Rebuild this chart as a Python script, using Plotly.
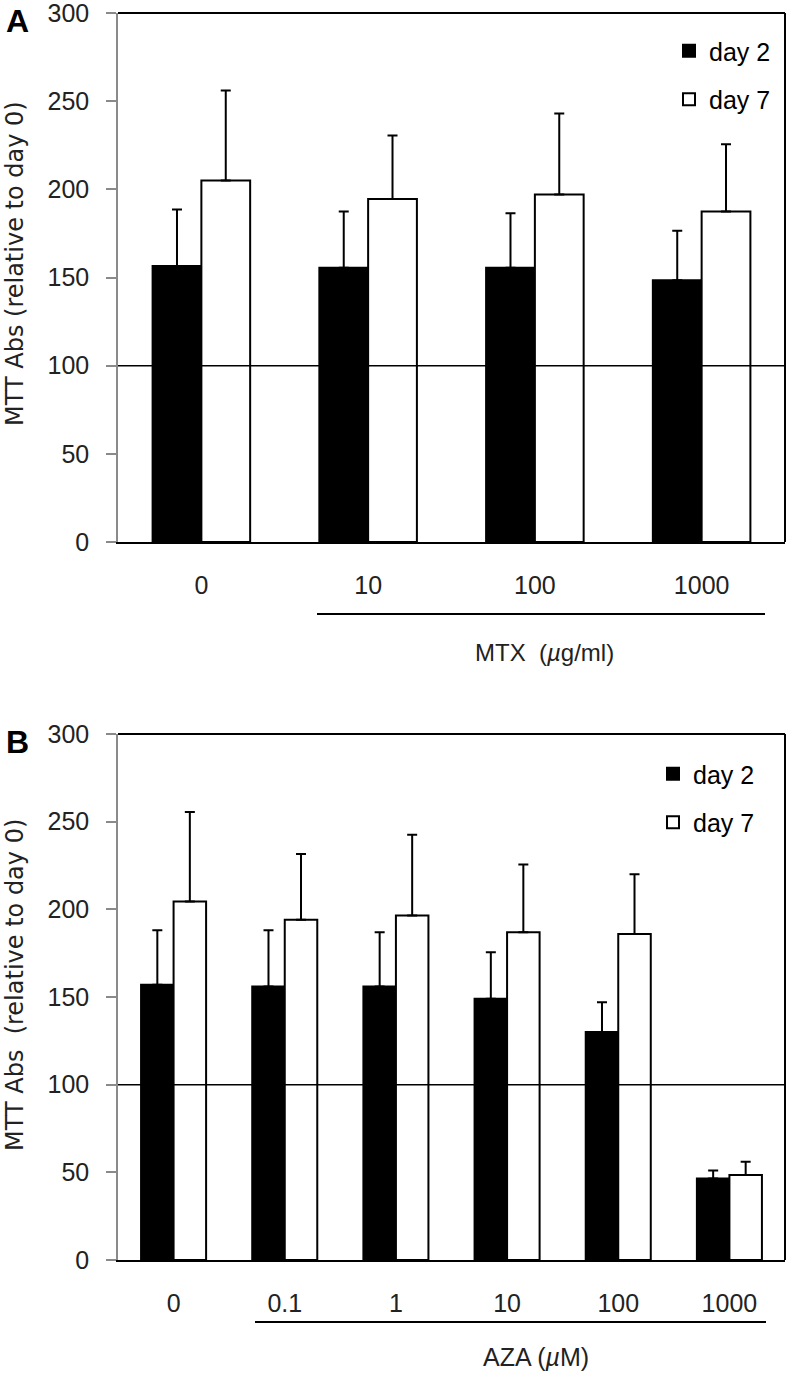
import plotly.graph_objects as go

# ---------------- data ----------------
mtx_doses = ["0", "10", "100", "1000"]
mtx_day2 = [156.5, 155.5, 155.5, 148.5]
mtx_day2_err = [32, 32, 31, 28]
mtx_day7 = [205, 194.5, 197, 187.5]
mtx_day7_err = [51, 36, 46, 38]

aza_doses = ["0", "0.1", "1", "10", "100", "1000"]
aza_day2 = [157, 156, 156, 149, 130, 46.5]
aza_day2_err = [31, 32, 31, 26.5, 17, 4.5]
aza_day7 = [204.5, 194, 196.5, 187, 186, 48.5]
aza_day7_err = [51, 37.5, 46, 38.5, 34, 7.5]

y_ticks = [0, 50, 100, 150, 200, 250, 300]
series_names = ["day 2", "day 7"]

# ---------------- layout helpers ----------------
W, H = 792, 1374
FONT = "Liberation Sans, Arial, sans-serif"
TFONT = "DejaVu Sans, Verdana, sans-serif"


def px_x(p):
    return p / W


def px_y(p):
    return 1 - p / H


x_dom = [px_x(118), px_x(785)]
yA_dom = [px_y(542), px_y(13)]
yB_dom = [px_y(1260), px_y(734)]

fig = go.Figure()


def add_bars(xs, d2, e2, d7, e7, xa, ya, leg, grp):
    for name, vals, errs, fill in [
        (series_names[0], d2, e2, "black"),
        (series_names[1], d7, e7, "white"),
    ]:
        fig.add_trace(go.Bar(
            x=xs, y=vals, name=name,
            marker=dict(color=fill, line=dict(color="black", width=2)),
            error_y=dict(type="data", array=errs, arrayminus=[0] * len(errs),
                         symmetric=False, color="black", thickness=2, width=5),
            xaxis=xa, yaxis=ya, legend=leg, legendgroup=grp + name,
        ))


add_bars(mtx_doses, mtx_day2, mtx_day2_err, mtx_day7, mtx_day7_err, "x", "y", "legend", "a")
add_bars(aza_doses, aza_day2, aza_day2_err, aza_day7, aza_day7_err, "x2", "y2", "legend2", "b")

yaxis_common = dict(
    range=[0, 300], tickvals=y_ticks, showgrid=False, zeroline=False,
    showline=True, linecolor="#8a8a8a", linewidth=1.5, automargin=False,
    ticks="outside", ticklen=10, tickcolor="#8a8a8a", tickwidth=1.5,
    tickfont=dict(family=FONT, size=25, color="#222"), ticklabelstandoff=12,
    ticklabeloverflow="allow",
)
xaxis_common = dict(
    type="category", showgrid=False, zeroline=False, automargin=False,
    showline=True, linecolor="black", linewidth=2, ticks="",
    tickfont=dict(family=FONT, size=25, color="#222"), ticklabelstandoff=20,
    ticklabeloverflow="allow",
)

legend_common = dict(
    font=dict(family=FONT, size=25, color="black"),
    bgcolor="rgba(0,0,0,0)", traceorder="grouped", tracegroupgap=13,
    xanchor="left", yanchor="top",
)

shapes = []
for xa, ya in [("x", "y"), ("x2", "y2")]:
    # reference line at 100
    shapes.append(dict(type="line", xref=f"{xa} domain", yref=ya, x0=0, x1=1,
                       y0=100, y1=100, line=dict(color="black", width=1.5), layer="above"))
    # top border
    shapes.append(dict(type="line", xref=f"{xa} domain", yref=f"{ya} domain", x0=0, x1=1,
                       y0=1, y1=1, line=dict(color="black", width=2)))
    # right border
    shapes.append(dict(type="line", xref=f"{xa} domain", yref=f"{ya} domain", x0=1, x1=1,
                       y0=0, y1=1, line=dict(color="black", width=2)))
# dose underlines
shapes.append(dict(type="line", xref="paper", yref="paper", x0=px_x(317), x1=px_x(765),
                   y0=px_y(614), y1=px_y(614), line=dict(color="black", width=2)))
shapes.append(dict(type="line", xref="paper", yref="paper", x0=px_x(255), x1=px_x(766),
                   y0=px_y(1322), y1=px_y(1322), line=dict(color="black", width=2)))


def ann(text, x, y, font, **kw):
    return dict(text=text, x=px_x(x), y=px_y(y), xref="paper", yref="paper",
                xanchor="center", yanchor="middle", showarrow=False, font=font, **kw)


annotations = [
    ann("<b>A</b>", 17, 21, dict(family=FONT, size=32, color="black")),
    ann("<b>B</b>", 17, 742, dict(family=FONT, size=32, color="black")),
    ann("MTT Abs (relative to day 0)", 15, 264, dict(family=TFONT, size=24, color="#222"),
        textangle=-90),
    ann("MTT Abs  (relative to day 0)", 15, 985, dict(family=TFONT, size=24, color="#222"),
        textangle=-90),
    ann("MTX  (<i>µ</i>g/ml)", 544, 652, dict(family=FONT, size=24, color="#222")),
    ann("AZA (<i>µ</i>M)", 536, 1357, dict(family=FONT, size=25, color="#222")),
]

fig.update_layout(
    width=W, height=H, margin=dict(l=0, r=0, t=0, b=0, autoexpand=False),
    paper_bgcolor="white", plot_bgcolor="white",
    barmode="group", bargap=0.415, bargroupgap=0,
    xaxis=dict(domain=x_dom, anchor="y", **xaxis_common),
    yaxis=dict(domain=yA_dom, anchor="x", **yaxis_common),
    xaxis2=dict(domain=x_dom, anchor="y2", **xaxis_common),
    yaxis2=dict(domain=yB_dom, anchor="x2", **yaxis_common),
    legend=dict(x=px_x(669), y=px_y(28), **legend_common),
    legend2=dict(x=px_x(653), y=px_y(751), **legend_common),
    shapes=shapes, annotations=annotations, showlegend=True,
)

fig.write_html("out.html", config={"displayModeBar": False},
               post_script="document.body.style.margin='0px';")
